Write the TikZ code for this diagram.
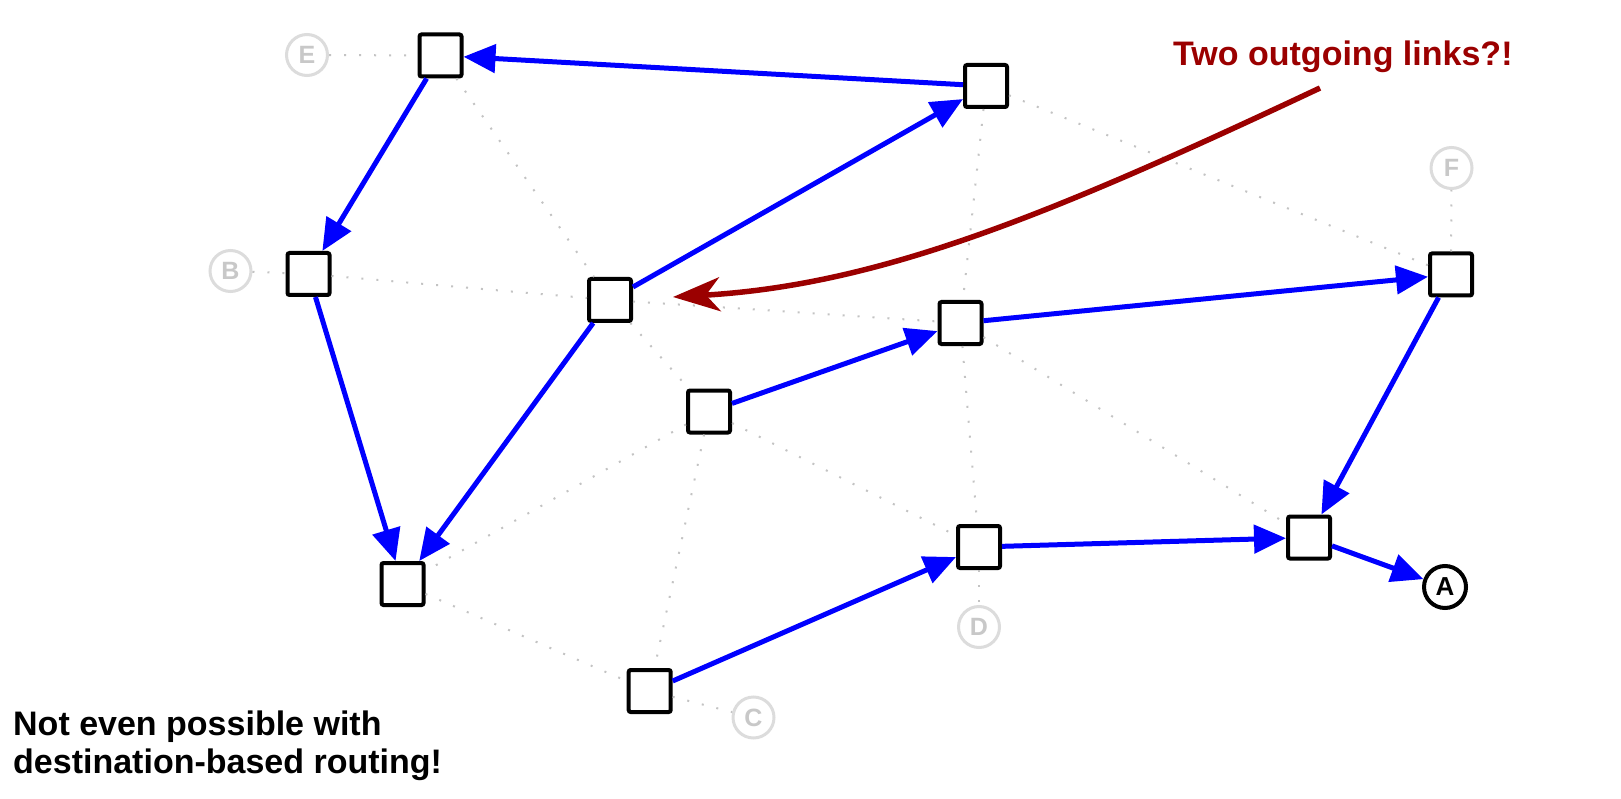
\documentclass[tikz,border=0pt]{standalone}
\usepackage{fontspec}
\setmainfont{Liberation Sans}
\usetikzlibrary{arrows.meta}
\definecolor{linkblue}{RGB}{0,0,255}
\definecolor{darkred}{RGB}{155,0,0}
\definecolor{ghost}{RGB}{220,220,220}
\definecolor{ghosttext}{RGB}{200,200,200}
\definecolor{dotgray}{RGB}{195,195,195}
\begin{document}
\begin{tikzpicture}[x=1pt,y=-1pt,
  router/.style={draw=black, line width=4pt, fill=white, rounded corners=2pt, minimum size=42pt, inner sep=0pt},
  ghostnode/.style={circle, draw=ghost, line width=3pt, fill=white, text=ghosttext, font=\fontsize{25}{25}\selectfont\bfseries, minimum size=41pt, inner sep=0pt},
  destnode/.style={circle, draw=black, line width=4pt, fill=white, text=black, font=\fontsize{26}{26}\selectfont\bfseries, minimum size=42pt, inner sep=0pt},
  link/.style={draw=linkblue, line width=5pt, -{Triangle[length=32pt,width=28pt]}},
  idle/.style={draw=dotgray, line width=2pt, dash pattern=on 2pt off 13pt},
  callout/.style={draw=darkred, line width=5.5pt, -{Stealth[length=47pt,width=34pt,inset=14pt]}},
  note/.style={anchor=base west, inner sep=0pt, font=\fontsize{34}{38}\selectfont\bfseries}
]
\useasboundingbox (0,0) rectangle (1621,799);

% routers
\node[router] (n1) at (440.5,55.5) {};
\node[router] (n2) at (986,86) {};
\node[router] (nb) at (308.5,274) {};
\node[router] (nmid) at (610,300) {};
\node[router] (n3) at (960.5,323) {};
\node[router] (n4) at (709,411.5) {};
\node[router] (n5) at (1451,274.5) {};
\node[router] (n6) at (402.5,584) {};
\node[router] (n7) at (649.7,691) {};
\node[router] (n8) at (979,547) {};
\node[router] (n9) at (1309,537.5) {};

% labelled hosts
\node[ghostnode] (e) at (307,55) {E};
\node[ghostnode] (b) at (230.5,271) {B};
\node[ghostnode] (f) at (1451.5,168) {F};
\node[ghostnode] (c) at (753.5,717.5) {C};
\node[ghostnode] (d) at (979,627) {D};
\node[destnode] (a) at (1445,587) {A};

% idle links
\draw[idle] (e) -- (n1);
\draw[idle] (b) -- (nb);
\draw[idle] (n1) -- (nmid);
\draw[idle] (nb) -- (nmid);
\draw[idle] (nmid) -- (n3);
\draw[idle] (nmid) -- (n4);
\draw[idle] (n2) -- (n3);
\draw[idle] (n2) -- (n5);
\draw[idle] (n3) -- (n8);
\draw[idle] (n3) -- (n9);
\draw[idle] (n4) -- (n8);
\draw[idle] (n4) -- (n6);
\draw[idle] (n4) -- (n7);
\draw[idle] (n6) -- (n7);
\draw[idle] (n7) -- (c);
\draw[idle] (n8) -- (d);
\draw[idle] (n5) -- (f);

% forwarding paths
\draw[link] (n2) -- (n1);
\draw[link] (n1) -- (nb);
\draw[link] (nb) -- (n6);
\draw[link] (nmid) -- (n6);
\draw[link] (nmid) -- (n2);
\draw[link] (n4) -- (n3);
\draw[link] (n3) -- (n5);
\draw[link] (n5) -- (n9);
\draw[link] (n7) -- (n8);
\draw[link] (n8) -- (n9);
\draw[link] (n9) -- (a);

% callout
\node[note, text=darkred] (q) at (1173,66) {Two outgoing links?!};
\coordinate (rs) at (1320,88);
\coordinate (rt) at (673,297);
\draw[callout] (rs) .. controls (1050,215) and (880,285) .. (rt);

\node[note] (t1) at (13,735) {Not even possible with};
\node[note] (t2) at (13,773) {destination-based routing!};
\end{tikzpicture}
\end{document}
